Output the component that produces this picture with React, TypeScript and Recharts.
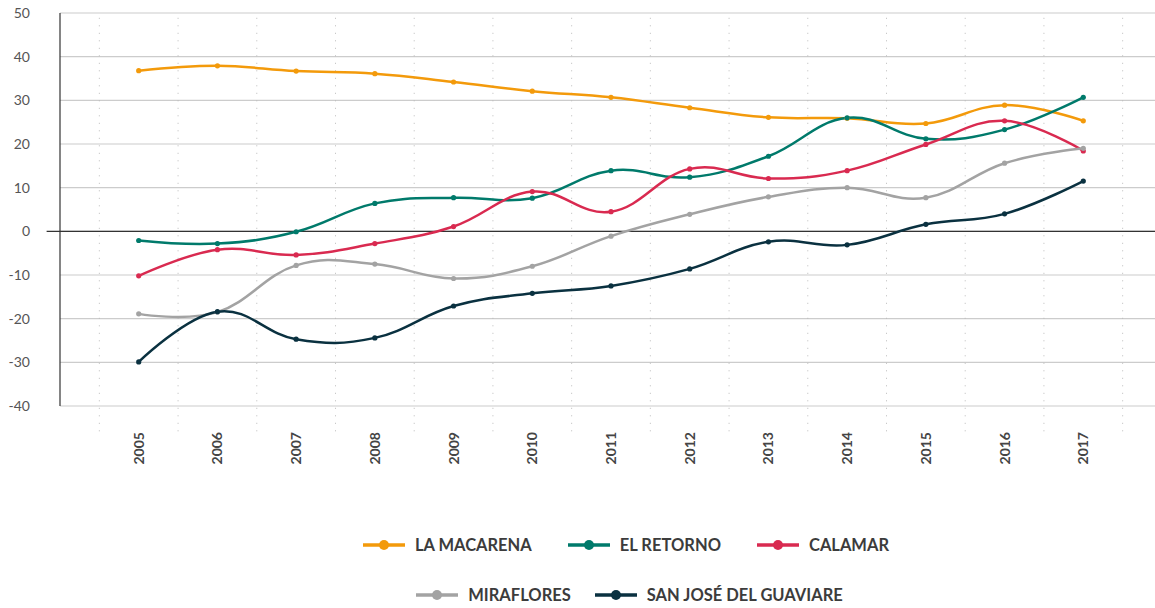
import React from "react";
import {
  LineChart,
  Line,
  XAxis,
  YAxis,
  CartesianGrid,
  ReferenceLine,
} from "recharts";

const years = [2005, 2006, 2007, 2008, 2009, 2010, 2011, 2012, 2013, 2014, 2015, 2016, 2017];
const yTicks = [-40, -30, -20, -10, 0, 10, 20, 30, 40, 50];

const laMacarena = [36.8, 37.9, 36.7, 36.1, 34.2, 32.1, 30.7, 28.3, 26.1, 25.9, 24.7, 28.9, 25.3];
const elRetorno = [-2.1, -2.8, -0.1, 6.4, 7.7, 7.6, 13.9, 12.4, 17.2, 26.0, 21.2, 23.3, 30.7];
const calamar = [-10.2, -4.2, -5.4, -2.8, 1.1, 9.1, 4.5, 14.3, 12.1, 13.9, 19.9, 25.3, 18.4];
const miraflores = [-18.9, -18.5, -7.8, -7.5, -10.8, -8.0, -1.1, 3.9, 7.9, 10.0, 7.7, 15.6, 19.0];
const sanJose = [-29.9, -18.4, -24.7, -24.4, -17.1, -14.2, -12.5, -8.6, -2.4, -3.1, 1.6, 4.0, 11.5];

const series = [
  { key: "macarena", name: "LA MACARENA", color: "#F39A0B", values: laMacarena },
  { key: "retorno", name: "EL RETORNO", color: "#007A6B", values: elRetorno },
  { key: "calamar", name: "CALAMAR", color: "#D92A50", values: calamar },
  { key: "miraflores", name: "MIRAFLORES", color: "#A3A3A3", values: miraflores },
  { key: "sanjose", name: "SAN JOSÉ DEL GUAVIARE", color: "#0A3140", values: sanJose },
];

const data = years.map((year, i) => {
  const row: any = { year };
  series.forEach((s) => (row[s.key] = s.values[i]));
  return row;
});

// highcharts-style spline (smoothing 1.5, no extreme clamping)
const splineCurve = (context: any) => {
  let pts: number[][] = [];
  return {
    areaStart() {},
    areaEnd() {},
    lineStart() {
      pts = [];
    },
    point(x: number, y: number) {
      pts.push([+x, +y]);
    },
    lineEnd() {
      const n = pts.length;
      if (!n) return;
      const s = 1.5;
      const d = s + 1;
      const left: number[][] = [];
      const right: number[][] = [];
      for (let i = 0; i < n; i++) {
        const [x, y] = pts[i];
        if (i > 0 && i < n - 1) {
          const [lx, ly] = pts[i - 1];
          const [nx, ny] = pts[i + 1];
          const lcx = (s * x + lx) / d;
          let lcy = (s * y + ly) / d;
          const rcx = (s * x + nx) / d;
          let rcy = (s * y + ny) / d;
          if (rcx !== lcx) {
            const c = ((rcy - lcy) * (rcx - x)) / (rcx - lcx) + y - rcy;
            lcy += c;
            rcy += c;
          }
          left[i] = [lcx, lcy];
          right[i] = [rcx, rcy];
        } else {
          left[i] = [x, y];
          right[i] = [x, y];
        }
      }
      context.moveTo(pts[0][0], pts[0][1]);
      for (let i = 1; i < n; i++) {
        context.bezierCurveTo(
          right[i - 1][0],
          right[i - 1][1],
          left[i][0],
          left[i][1],
          pts[i][0],
          pts[i][1]
        );
      }
    },
  };
};

const boundaries = years.map((y) => y - 0.5).concat([years[years.length - 1] + 0.5]);

function YearTick({ x, y, payload }: any) {
  return (
    <text
      x={x}
      y={y}
      transform={`rotate(-90, ${x}, ${y})`}
      textAnchor="end"
      dy="0.36em"
      fontSize={14}
      fontWeight={700}
      fill="#454545"
      fontFamily="Lato"
    >
      {payload.value}
    </text>
  );
}

function LegendItem({ name, color }: { name: string; color: string }) {
  return (
    <div style={{ display: "flex", alignItems: "center" }}>
      <svg width={42} height={12} style={{ marginRight: 10 }}>
        <line x1={0} y1={6} x2={42} y2={6} stroke={color} strokeWidth={3.5} />
        <circle cx={21} cy={6} r={5} fill={color} />
      </svg>
      <span style={{ fontSize: 16.5, fontWeight: 700, color: "#3c3c3c" }}>{name}</span>
    </div>
  );
}

export default function App() {
  return (
    <div
      style={{
        position: "absolute",
        left: 0,
        top: 0,
        width: 1155,
        height: 608,
        overflow: "hidden",
        background: "#fff",
        fontFamily: "Lato, sans-serif",
      }}
    >
      <LineChart
        width={1162}
        height={608}
        data={data}
        margin={{ top: 13, right: 0, left: 0, bottom: 0 }}
      >
        <CartesianGrid vertical={false} stroke="#cccccc" strokeWidth={1.2} />
        <XAxis
          dataKey="year"
          type="number"
          domain={[2004, 2018]}
          ticks={years}
          allowDataOverflow
          axisLine={false}
          tickLine={false}
          tickSize={0}
          tickMargin={26}
          height={202}
          tick={<YearTick />}
          interval={0}
        />
        <YAxis
          type="number"
          domain={[-40, 50]}
          ticks={yTicks}
          width={60}
          axisLine={{ stroke: "#333", strokeWidth: 1.2 }}
          tickLine={false}
          tickSize={0}
          tickMargin={30}
          tick={{ fontSize: 14, fill: "#555", fontFamily: "Lato" }}
          interval={0}
        />
        {boundaries.map((b) => (
          <ReferenceLine
            key={b}
            segment={[
              { x: b, y: 48.9 },
              { x: b, y: -46.6 },
            ]}
            stroke="#bbbbbb"
            strokeDasharray="1 6.5"
            ifOverflow="visible"
          />
        ))}
        <ReferenceLine
          segment={[
            { x: 2003.83, y: 0 },
            { x: 2018, y: 0 },
          ]}
          stroke="#333"
          strokeWidth={1.2}
          ifOverflow="visible"
        />
        {series.map((s) => (
          <Line
            key={s.key}
            dataKey={s.key}
            name={s.name}
            type={splineCurve as any}
            stroke={s.color}
            strokeWidth={2.5}
            dot={{ r: 2.6, fill: s.color, stroke: "none" }}
            activeDot={false}
            isAnimationActive={false}
          />
        ))}
      </LineChart>
      <div
        style={{
          position: "absolute",
          left: 0,
          width: 1252,
          top: 535,
          display: "flex",
          justifyContent: "center",
          gap: 36,
        }}
      >
        {series.slice(0, 3).map((s) => (
          <LegendItem key={s.key} name={s.name} color={s.color} />
        ))}
      </div>
      <div
        style={{
          position: "absolute",
          left: 0,
          width: 1259,
          top: 585,
          display: "flex",
          justifyContent: "center",
          gap: 24,
        }}
      >
        {series.slice(3).map((s) => (
          <LegendItem key={s.key} name={s.name} color={s.color} />
        ))}
      </div>
    </div>
  );
}
